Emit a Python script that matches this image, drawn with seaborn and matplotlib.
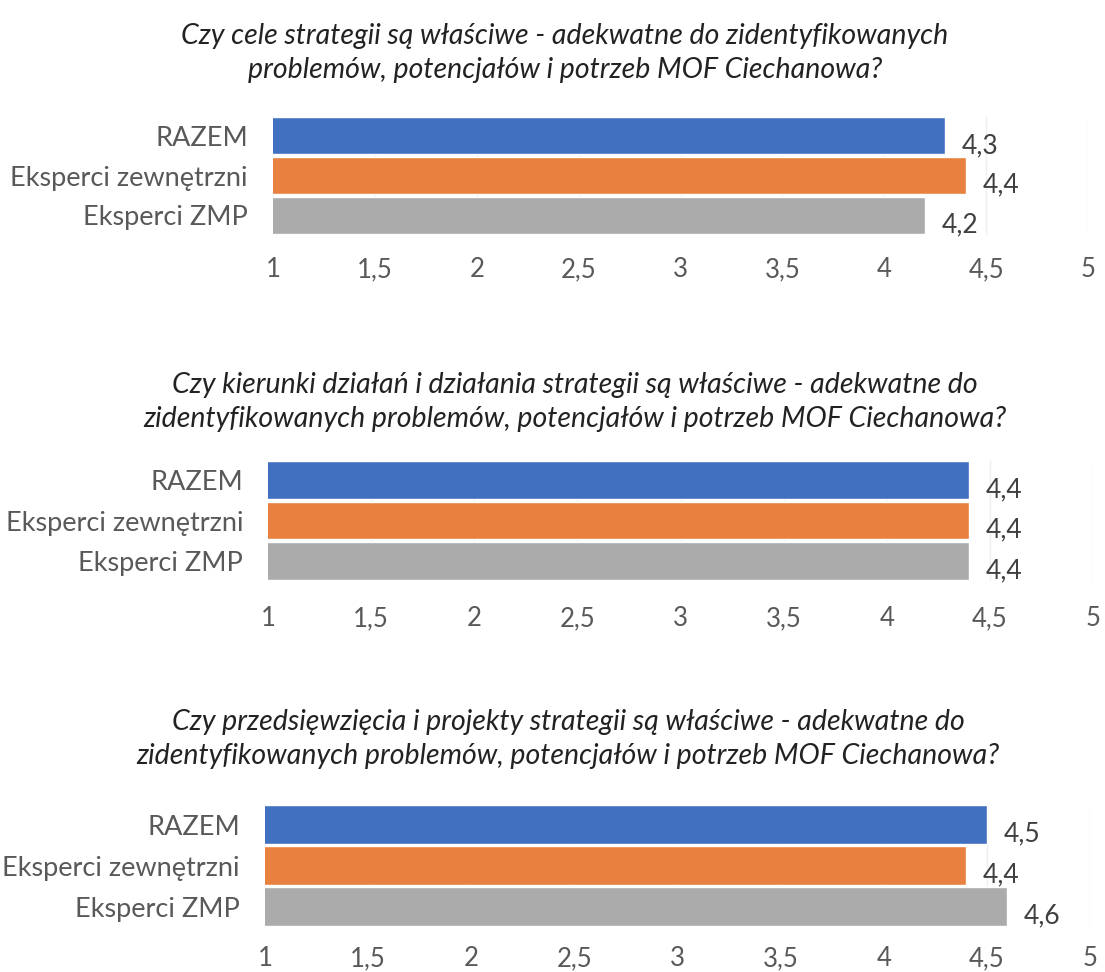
import matplotlib
matplotlib.use("Agg")
import matplotlib.pyplot as plt
import seaborn as sns
import pandas as pd

categories = ["RAZEM", "Eksperci zewnętrzni", "Eksperci ZMP"]
q1_values = [4.3, 4.4, 4.2]
q2_values = [4.4, 4.4, 4.4]
q3_values = [4.5, 4.4, 4.6]
titles = [
    "Czy cele strategii są właściwe - adekwatne do zidentyfikowanych\nproblemów, potencjałów i potrzeb MOF Ciechanowa?",
    "Czy kierunki działań i działania strategii są właściwe - adekwatne do\nzidentyfikowanych problemów, potencjałów i potrzeb MOF Ciechanowa?",
    "Czy przedsięwzięcia i projekty strategii są właściwe - adekwatne do\nzidentyfikowanych problemów, potencjałów i potrzeb MOF Ciechanowa?",
]
ticks = [1, 1.5, 2, 2.5, 3, 3.5, 4, 4.5, 5]
tick_labels = ["1", "1,5", "2", "2,5", "3", "3,5", "4", "4,5", "5"]
colors = ["#4170C0", "#E8813F", "#ABABAB"]

sns.set_theme(style="white")
plt.rcParams["font.family"] = ["Lato", "DejaVu Sans"]

W, H = 1105, 972
fig = plt.figure(figsize=(W / 100, H / 100), dpi=100)

# axes boxes in pixels: (left, top, right, bottom); title centre (x, y) and tick pad
panels = [
    ((273, 116, 1088, 235), (565, 53), 16),
    ((268, 460, 1093, 581), (575, 402), 18),
    ((265, 804, 1090, 927), (568, 739), 14),
]

for values, title, (box, tpos, tpad) in zip([q1_values, q2_values, q3_values], titles, panels):
    l, t, r, b = box
    ax = fig.add_axes([l / W, 1 - b / H, (r - l) / W, (b - t) / H])
    df = pd.DataFrame({"kategoria": categories, "ocena": values})
    sns.barplot(data=df, x="ocena", y="kategoria", hue="kategoria",
                palette=colors, orient="h", width=0.94, legend=False,
                ax=ax, saturation=1)
    ax.set_xlim(1, 5)
    ax.set_ylim(2.5, -0.5)
    ax.set_xticks(ticks)
    ax.set_xticklabels(tick_labels)
    ax.tick_params(axis="x", length=0, pad=tpad, labelsize=18.5, labelcolor="#595959")
    ax.tick_params(axis="y", length=0, pad=18, labelsize=19.5, labelcolor="#595959")
    ax.set_xlabel("")
    ax.set_ylabel("")
    for s in ax.spines.values():
        s.set_visible(False)
    ax.grid(axis="x", color="#EFEFEF", linewidth=1)
    ax.set_axisbelow(True)
    for i, v in enumerate(values):
        ax.annotate(f"{v:.1f}".replace(".", ","), (v, i), xytext=(12, -7),
                    textcoords="offset points", va="center", ha="left",
                    fontsize=19, color="#404040")
    fig.text(tpos[0] / W, 1 - tpos[1] / H, title, ha="center", va="center",
             fontsize=20.5, style="italic", color="#222222", linespacing=1.42)

fig.savefig("out.png", dpi=100, facecolor="white")
